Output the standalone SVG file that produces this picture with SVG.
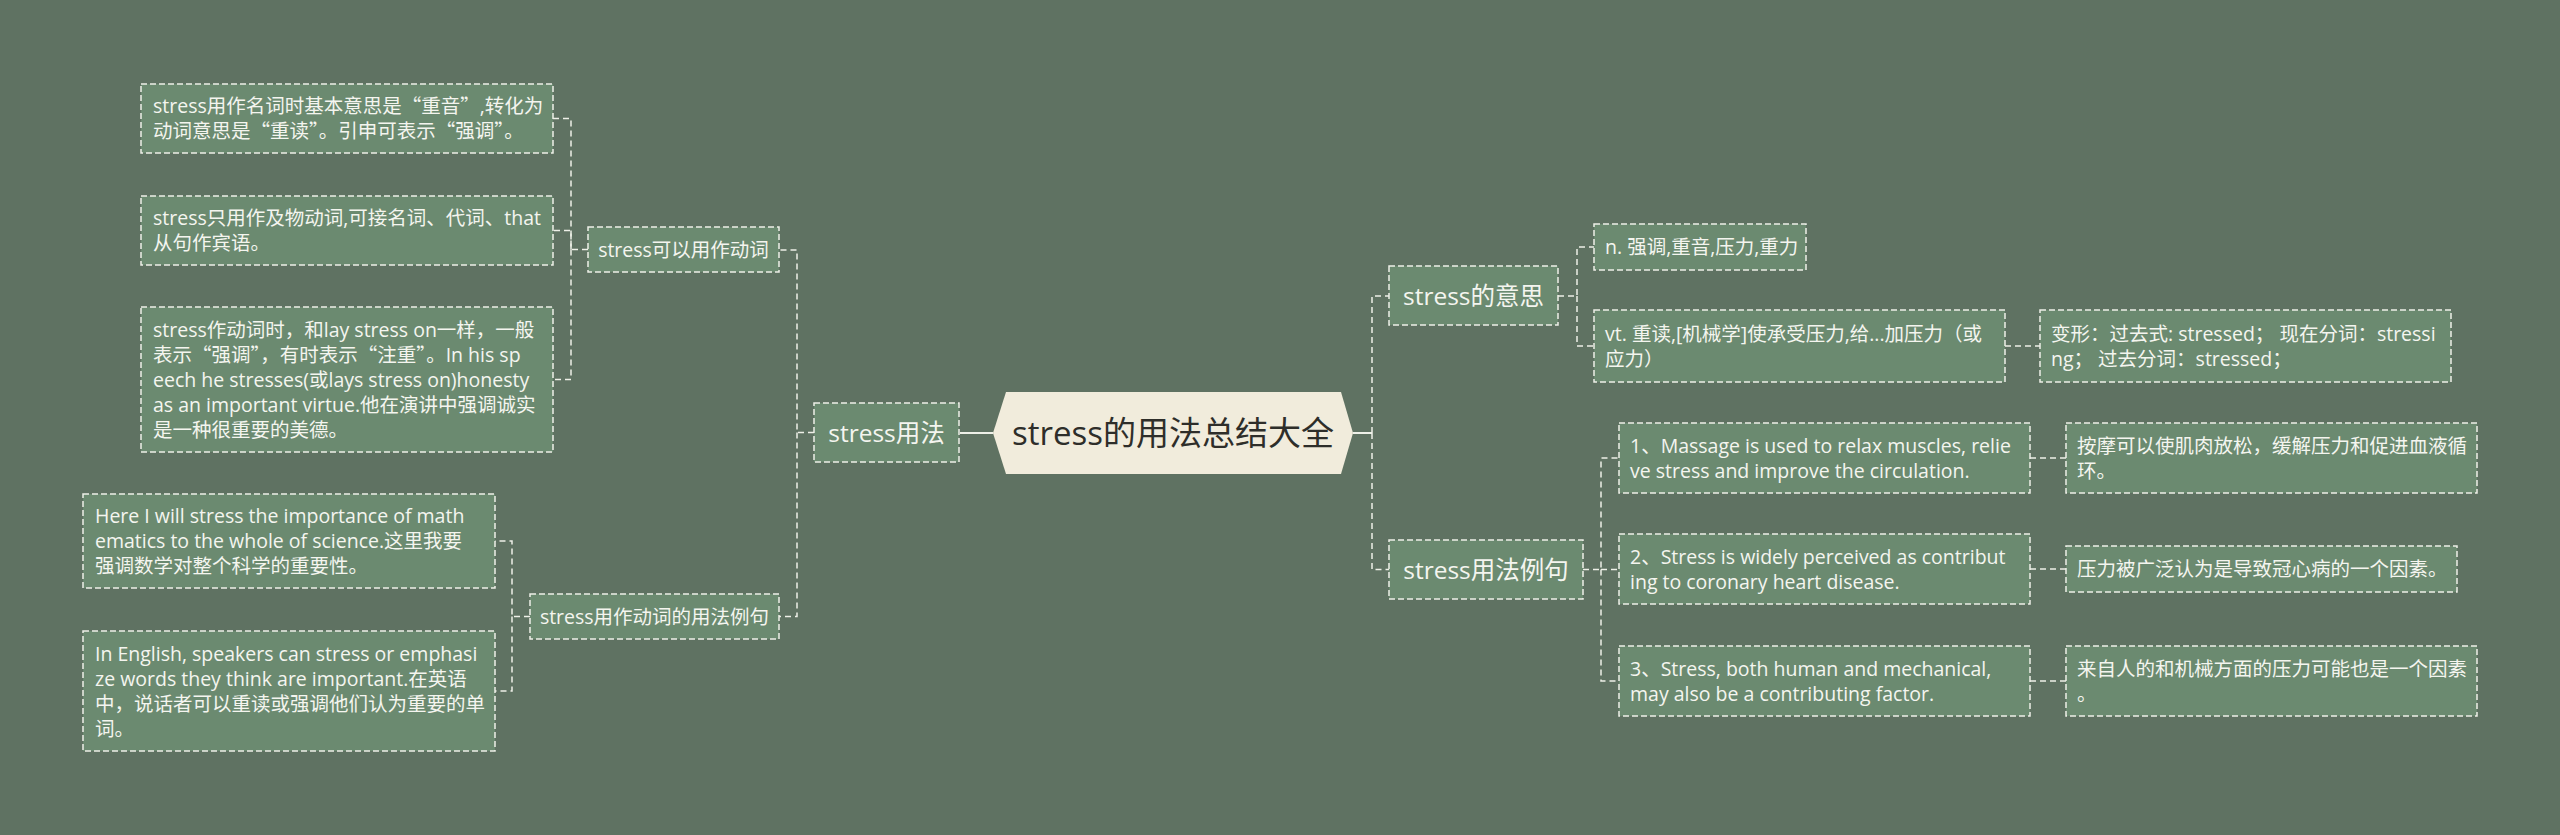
<svg xmlns="http://www.w3.org/2000/svg" width="2560" height="835" viewBox="0 0 2560 835">
<style>
.n{fill:#6b8a70;stroke:#eef0e8;stroke-width:1.5;stroke-dasharray:6 3}
.t{fill:#f4f5ef;font-family:"Open Sans","Noto Sans CJK SC",sans-serif;font-size:19.5px}
.m{fill:#f4f5ef;font-family:"Open Sans","Noto Sans CJK SC",sans-serif;font-size:24.5px;text-anchor:middle}
.s{fill:#f4f5ef;font-family:"Open Sans","Noto Sans CJK SC",sans-serif;font-size:19.5px;text-anchor:middle}
.q{font-family:"Noto Sans CJK SC",sans-serif}
.c{fill:none;stroke:#eef0e8;stroke-width:1.5;stroke-dasharray:6 4}
.c0{fill:none;stroke:#eef0e8;stroke-width:2}
</style>
<rect width="2560" height="835" fill="#5f7262"/>
<g id="connectors">
<path class="c0" d="M993 433 H960"/>
<path class="c" d="M814 432.5 H797 V250 H779"/>
<path class="c" d="M797 432.5 V616.5 H779"/>
<path class="c" d="M588 249.5 H571 V118.5 H553"/>
<path class="c" d="M571 249.5 V230.5 H553"/>
<path class="c" d="M571 249.5 V379.5 H553"/>
<path class="c" d="M530 616.5 H512 V541 H495"/>
<path class="c" d="M512 616.5 V691 H495"/>
<path class="c0" d="M1353 433 H1372"/>
<path class="c" d="M1372 433 V296 H1389"/>
<path class="c" d="M1372 433 V569.5 H1389"/>
<path class="c" d="M1558 296 H1577 V247 H1594"/>
<path class="c" d="M1577 296 V346 H1594"/>
<path class="c" d="M2005 346 H2040"/>
<path class="c" d="M1583 569.5 H1601 V458 H1619"/>
<path class="c" d="M1601 569.5 H1619"/>
<path class="c" d="M1601 569.5 V681 H1619"/>
<path class="c" d="M2030 458 H2066"/>
<path class="c" d="M2030 569 H2066"/>
<path class="c" d="M2030 681 H2066"/>
</g>
<g id="root">
<polygon points="993,433 1006,392 1341,392 1353,433 1341,474 1006,474" fill="#f1ecdc"/>
<text x="1173" y="445" font-family="Open Sans, Noto Sans CJK SC, sans-serif" font-size="33" fill="#2e2e2a" text-anchor="middle">stress的用法总结大全</text>
</g>
<g id="usage">
<rect class="n" x="814" y="403" width="145" height="59"/>
<text class="m" x="886.5" y="441.5">stress用法</text>
</g>
<g id="verb">
<rect class="n" x="588" y="227" width="191" height="45"/>
<text class="s" x="683.5" y="256.5">stress可以用作动词</text>
</g>
<g id="verb-examples">
<rect class="n" x="530" y="594" width="249" height="45"/>
<text class="s" x="654.5" y="623.5">stress用作动词的用法例句</text>
</g>
<g id="leaf-a">
<rect class="n" x="141" y="84" width="412" height="69"/>
<text class="t" x="153" y="113">stress用作名词时基本意思是<tspan class="q">“</tspan>重音<tspan class="q">”</tspan>,转化为</text>
<text class="t" x="153" y="138">动词意思是<tspan class="q">“</tspan>重读<tspan class="q">”</tspan>。引申可表示<tspan class="q">“</tspan>强调<tspan class="q">”</tspan>。</text>
</g>
<g id="leaf-b">
<rect class="n" x="141" y="196" width="412" height="69"/>
<text class="t" x="153" y="225">stress只用作及物动词,可接名词、代词、that</text>
<text class="t" x="153" y="250">从句作宾语。</text>
</g>
<g id="leaf-c">
<rect class="n" x="141" y="307" width="412" height="145"/>
<text class="t" x="153" y="336.5">stress作动词时，和lay stress on一样，一般</text>
<text class="t" x="153" y="361.5">表示<tspan class="q">“</tspan>强调<tspan class="q">”</tspan>，有时表示<tspan class="q">“</tspan>注重<tspan class="q">”</tspan>。In his sp</text>
<text class="t" x="153" y="386.5">eech he stresses(或lays stress on)honesty</text>
<text class="t" x="153" y="411.5">as an important virtue.他在演讲中强调诚实</text>
<text class="t" x="153" y="436.5">是一种很重要的美德。</text>
</g>
<g id="leaf-d">
<rect class="n" x="83" y="494" width="412" height="94"/>
<text class="t" x="95" y="523">Here I will stress the importance of math</text>
<text class="t" x="95" y="548">ematics to the whole of science.这里我要</text>
<text class="t" x="95" y="573">强调数学对整个科学的重要性。</text>
</g>
<g id="leaf-e">
<rect class="n" x="83" y="631" width="412" height="120"/>
<text class="t" x="95" y="660.5">In English, speakers can stress or emphasi</text>
<text class="t" x="95" y="685.5">ze words they think are important.在英语</text>
<text class="t" x="95" y="710.5">中，说话者可以重读或强调他们认为重要的单</text>
<text class="t" x="95" y="735.5">词。</text>
</g>
<g id="meaning">
<rect class="n" x="1389" y="266" width="169" height="59"/>
<text class="m" x="1473.5" y="305">stress的意思</text>
</g>
<g id="meaning-n">
<rect class="n" x="1594" y="224" width="212" height="46"/>
<text class="t" x="1605" y="254">n. 强调,重音,压力,重力</text>
</g>
<g id="meaning-vt">
<rect class="n" x="1594" y="310" width="411" height="72"/>
<text class="t" x="1605" y="340.5">vt. 重读,[机械学]使承受压力,给...加压力（或</text>
<text class="t" x="1605" y="365.5">应力）</text>
</g>
<g id="forms">
<rect class="n" x="2040" y="310" width="411" height="72"/>
<text class="t" x="2051" y="340.5">变形：过去式: stressed； 现在分词：stressi</text>
<text class="t" x="2051" y="365.5">ng； 过去分词：stressed；</text>
</g>
<g id="examples">
<rect class="n" x="1389" y="540" width="194" height="59"/>
<text class="m" x="1486" y="578.5">stress用法例句</text>
</g>
<g id="ex-1">
<rect class="n" x="1619" y="423" width="411" height="70"/>
<text class="t" x="1630" y="452.5">1、Massage is used to relax muscles, relie</text>
<text class="t" x="1630" y="477.5">ve stress and improve the circulation.</text>
</g>
<g id="ex-2">
<rect class="n" x="1619" y="534" width="411" height="70"/>
<text class="t" x="1630" y="563.5">2、Stress is widely perceived as contribut</text>
<text class="t" x="1630" y="588.5">ing to coronary heart disease.</text>
</g>
<g id="ex-3">
<rect class="n" x="1619" y="646" width="411" height="70"/>
<text class="t" x="1630" y="675.5">3、Stress, both human and mechanical,</text>
<text class="t" x="1630" y="700.5">may also be a contributing factor.</text>
</g>
<g id="cn-1">
<rect class="n" x="2066" y="423" width="411" height="70"/>
<text class="t" x="2077" y="452.5">按摩可以使肌肉放松，缓解压力和促进血液循</text>
<text class="t" x="2077" y="477.5">环。</text>
</g>
<g id="cn-2">
<rect class="n" x="2066" y="546" width="391" height="46"/>
<text class="t" x="2077" y="576">压力被广泛认为是导致冠心病的一个因素。</text>
</g>
<g id="cn-3">
<rect class="n" x="2066" y="646" width="411" height="70"/>
<text class="t" x="2077" y="675.5">来自人的和机械方面的压力可能也是一个因素</text>
<text class="t" x="2077" y="700.5">。</text>
</g>
</svg>
